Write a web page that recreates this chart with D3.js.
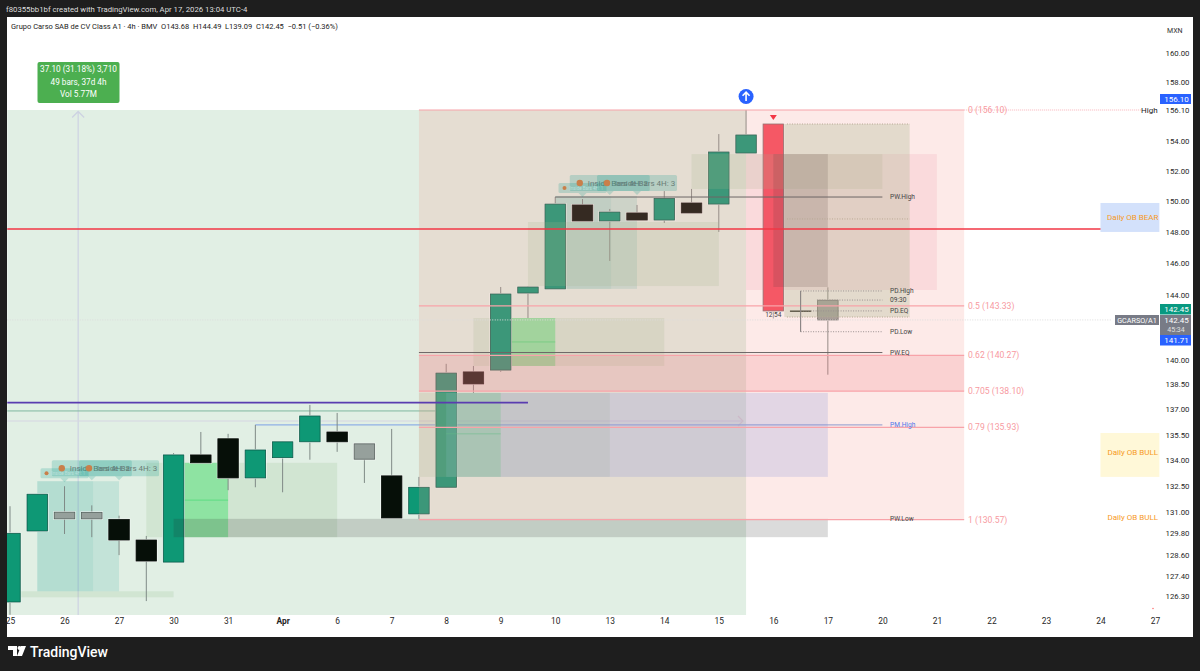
<!DOCTYPE html>
<html>
<head>
<meta charset="utf-8">
<script src="https://cdn.jsdelivr.net/npm/d3@7"></script>
<style>
  html, body { margin: 0; padding: 0; background: #1e1e1e; }
  svg { display: block; }
  text { font-family: Roboto, sans-serif; }
</style>
</head>
<body>
<svg id="chart"></svg>
<script>
"use strict";

// candles, bar index = position in the array
const candleKinds = ["up","up","flat","flat","down","down","up","down","down","up","up","up","down","flat","down","up","up","down","up","up","up","down","up","down","up","down","up","up","red","down","flat"];
const opens  = [125.97,129.93,131.0,130.62,130.59,129.42,128.18,134.31,135.26,132.97,134.15,135.08,135.66,134.96,133.09,130.90,132.43,139.26,139.37,144.13,144.39,149.77,148.73,149.25,148.79,149.90,149.83,153.20,155.15,143.01,143.68];
const highs  = [131.34,132.03,132.49,131.39,130.8,129.65,134.42,135.66,135.55,136.08,135.08,137.27,136.79,134.96,135.84,133.03,139.75,139.62,144.51,144.57,150.29,150.16,149.51,149.77,150.68,150.82,154.47,156.10,155.15,144.26,144.49];
const lows   = [125.27,129.93,129.76,129.58,128.57,126.02,128.18,133.85,132.26,132.43,132.14,134.03,134.49,132.68,130.67,130.62,132.43,137.99,139.26,142.57,144.39,148.73,146.16,148.79,148.60,149.25,148.02,153.20,143.01,141.72,139.09];
const closes = [129.80,132.03,130.62,130.99,129.42,128.24,134.31,133.85,132.97,134.60,135.08,136.61,135.08,134.06,130.67,132.43,139.19,138.53,144.07,144.51,149.83,148.73,149.31,148.79,150.19,149.25,153.27,154.41,143.01,143.01,142.45];

// axes
const priceTicks = [160,158,156.1,154,152,150,148,146,144,140,138.5,137,135.5,134,132.5,131,129.8,128.6,127.4,126.3];
const dayTicks = [0,2,4,6,8,10,12,14,16,18,20,22,24,26,28,30,32,34,36,38,40,42];
const dayLabels = ["25","26","27","30","31","Apr","6","7","8","9","10","13","14","15","16","17","20","21","22","23","24","27"];

// fib levels
const fibRatios = [0,0.5,0.62,0.705,0.79,1];
const fibPrices = [156.10,143.33,140.27,138.10,135.93,130.57];

// zones: [bar from, bar to, price top, price bottom]
const paleZones = [[5,12,133.85,129.58],[17,24,142.57,139.62],[19,26,148.66,144.57],[25,32,153.13,150.82],[15,22,137.99,133.03],[-0.1,6,126.56,126.23]];
const brightZones = [[6,8,133.85,129.58],[18,20,142.57,139.62],[16,18,137.99,133.03]];
const brightMids = [131.69,141.09,135.55];
const insideStrong = [[1,3.05,132.78,126.56],[20,22.05,150.36,144.39]];
const insideLight = [[3.05,4,132.78,126.56],[22.05,23,150.36,144.39]];
const insideLabelBars = [[2,3,4],[21,22,23]];
const insideLabelTops = [132.78,150.36];

// guide lines: [label, bar from, bar to, price]
const solidGuides = [["PW.High",20,32,150.29],["PW.EQ",15,32,140.44]];
const dottedGuides = [["PD.High",29,32,144.26],["09:30",29.6,32,143.69],["PD.EQ",29,32,143.01],["PD.Low",29,32,141.72]];

const width = 1200;
const height = 671;
const plot = { left: 7, right: 1193, top: 17, bottom: 637, axis: 1160, dates: 615 };

const x = d3.scaleLinear().domain([0, 42]).range([10, 1155]);
const y = d3.scaleLog().domain([156.1, 126.3]).range([110, 596]);
const barW = 20.5;

const svg = d3.select("#chart").attr("width", width).attr("height", height);

function zone(g, z, fill) {
  g.append("rect")
    .attr("x", x(z[0]))
    .attr("y", y(z[2]))
    .attr("width", x(z[1]) - x(z[0]))
    .attr("height", y(z[3]) - y(z[2]))
    .attr("fill", fill);
}
function hline(g, b0, b1, p, color, w, dash) {
  g.append("line")
    .attr("x1", x(b0)).attr("x2", x(b1))
    .attr("y1", y(p)).attr("y2", y(p))
    .attr("stroke", color).attr("stroke-width", w)
    .attr("stroke-dasharray", dash || null);
}
function label(g, px, py, txt, size, color, anchor) {
  return g.append("text")
    .attr("x", px).attr("y", py).attr("dy", "0.35em")
    .attr("font-size", size).attr("fill", color)
    .attr("text-anchor", anchor || "start")
    .text(txt);
}

// frame
svg.append("rect").attr("width", width).attr("height", height).attr("fill", "#1e1e1e");
svg.append("rect").attr("x", plot.left).attr("y", plot.top)
  .attr("width", plot.right - plot.left).attr("height", plot.bottom - plot.top).attr("fill", "#fff");

const main = svg.append("g");
main.append("defs").append("clipPath").attr("id", "pane").append("rect")
  .attr("x", plot.left).attr("y", plot.top)
  .attr("width", plot.axis - plot.left).attr("height", plot.dates - plot.top);
const pane = main.append("g").attr("clip-path", "url(#pane)");

// price range measure background
zone(pane, [-0.1, 27, 156.1, 120], "#e1efe4");
pane.append("path")
  .attr("d", `M${x(2.5)},${y(125)}V${y(156)}m-6,6l6,-6l6,6`)
  .attr("fill", "none").attr("stroke", "#cdd2e2").attr("stroke-width", 1.2);
hline(pane, -0.1, 26.85, 136.31, "#d5d5e2", 1.2);
pane.append("path")
  .attr("d", `M${x(26.85) - 4},${y(136.31) - 5}l5,5l-5,5`)
  .attr("fill", "none").attr("stroke", "#dcd2d4").attr("stroke-width", 1.2);

// zones under the candles
paleZones.slice(0, 2).concat([paleZones[5]]).forEach((z) => zone(pane, z, "rgba(145,190,140,0.2)"));
brightZones.slice(0, 2).forEach((z) => zone(pane, z, "rgba(60,225,105,0.45)"));
brightMids.slice(0, 2).forEach((p, i) => hline(pane, brightZones[i][0], brightZones[i][1], p, "rgba(60,215,110,0.6)", 1));
insideStrong.forEach((z) => zone(pane, z, "rgba(0,150,136,0.2)"));
insideLight.forEach((z) => zone(pane, z, "rgba(0,150,136,0.13)"));

// guide lines behind the candles
hline(pane, -0.1, 15.7, 136.91, "#7fb8a0", 1);
hline(pane, 9, 32, 136.08, "#8fb0e6", 1.2);

// candles
const fills = { up: "#0e9875", down: "#060f08", flat: "#96a09c", red: "#f5495c" };
const edges = { up: "#0c5a48", down: "#0a120c", flat: "#56615d", red: "#7d6a6c" };
const bars = d3.range(opens.length);

pane.selectAll("line.wick").data(bars).join("line")
  .attr("class", "wick")
  .attr("x1", (i) => x(i)).attr("x2", (i) => x(i))
  .attr("y1", (i) => y(highs[i])).attr("y2", (i) => y(lows[i]))
  .attr("stroke", "#7f8a86").attr("stroke-width", 1);

pane.selectAll("rect.halo").data(bars).join("rect")
  .attr("class", "halo")
  .attr("x", (i) => x(i) - barW / 2 - 1)
  .attr("width", barW + 2)
  .attr("y", (i) => y(Math.max(opens[i], closes[i])) - 1)
  .attr("height", (i) => Math.abs(y(opens[i]) - y(closes[i])) + 2)
  .attr("fill", "rgba(255,255,255,0.75)");

pane.selectAll("rect.body").data(bars).join("rect")
  .attr("class", "body")
  .attr("x", (i) => x(i) - barW / 2)
  .attr("width", barW)
  .attr("y", (i) => y(Math.max(opens[i], closes[i])))
  .attr("height", (i) => Math.max(Math.abs(y(opens[i]) - y(closes[i])), 0.6))
  .attr("fill", (i) => fills[candleKinds[i]])
  .attr("stroke", (i) => edges[candleKinds[i]])
  .attr("stroke-width", 0.8);

// zones over the candles
paleZones.slice(2, 5).forEach((z) => zone(pane, z, "rgba(145,190,140,0.2)"));
zone(pane, brightZones[2], "rgba(60,225,105,0.28)");
hline(pane, 16, 18, brightMids[2], "rgba(60,215,110,0.5)", 1);
zone(pane, [27, 34, 153.13, 144.32], "rgba(230,64,115,0.1)");
zone(pane, [28.4, 33, 155.15, 142.63], "rgba(150,190,140,0.3)");
zone(pane, [16, 30, 137.99, 133.03], "rgba(90,130,235,0.2)");
zone(pane, [6, 30, 130.62, 129.58], "rgba(40,40,40,0.17)");
zone(pane, [28, 30, 153.13, 144.51], "rgba(40,40,40,0.17)");
[155.15, 148.86, 142.63].forEach((p) => hline(pane, 28.5, 33, p, "#a9ad96", 1, "1 1.5"));

// fib
zone(pane, [15, 35, fibPrices[0], fibPrices[5]], "rgba(245,150,140,0.2)");
zone(pane, [15, 35, fibPrices[2], fibPrices[3]], "rgba(240,115,125,0.2)");

solidGuides.forEach((g) => {
  hline(pane, g[1], g[2], g[3], "#6d6666", 1);
  label(main, 890, y(g[3]), g[0], 6.6, "#444");
});
label(main, 890, y(130.6) - 0.5, "PW.Low", 6.6, "#444");

fibPrices.forEach((p, i) => {
  hline(pane, 15, 35, p, "#f8a3a9", 1.2);
  label(main, 968, y(p), `${fibRatios[i]} (${p.toFixed(2)})`, 8.6, "#f79aa1");
});

// long levels
hline(pane, -0.1, 19, 137.41, "#5a3cb0", 1.6);
hline(pane, -0.1, 41, 148.21, "#f23645", 1.3);
hline(pane, -0.1, 40.4, 142.45, "#dcdcdc", 1, "1 1.5");
hline(pane, 35, 41.5, 156.10, "#f8b4b9", 1.2, "1 1");

label(main, 890, y(136.08), "PM.High", 6.6, "#4f76e8");
dottedGuides.forEach((g) => {
  hline(pane, g[1], g[2], g[3], "#9a9090", 1, "1 1.5");
  label(main, 890, y(g[3]), g[0], 6.6, "#444");
});
pane.append("line")
  .attr("x1", x(29)).attr("x2", x(29)).attr("y1", y(144.26)).attr("y2", y(141.72))
  .attr("stroke", "#8a8585").attr("stroke-width", 1);
label(main, x(28), y(143.01) + 4, "12|54", 6.5, "#444", "middle");
label(main, 1141, y(156.10), "High", 8, "#222");

// inside bar labels
insideLabelBars.forEach((group, g) => {
  const top = y(insideLabelTops[g]);
  group.forEach((b, i) => {
    const small = i === 0;
    const w = small ? 48 : 80;
    const h = small ? 10 : 16;
    const cx = x(b);
    const by = top - (small ? 3 : 5) - h;
    main.append("path")
      .attr("d", `M${cx - 4},${by + h}h8l-4,4z`)
      .attr("fill", "rgba(0,150,136,0.2)");
    main.append("rect")
      .attr("x", cx - w / 2).attr("y", by)
      .attr("width", w).attr("height", h).attr("rx", 1.5)
      .attr("fill", "rgba(0,150,136,0.2)");
    main.append("circle")
      .attr("cx", cx - w / 2 + (small ? 6 : 10)).attr("cy", by + h / 2)
      .attr("r", small ? 2 : 3.2).attr("fill", "#c97f4a");
    label(main, cx - w / 2 + (small ? 11 : 18), by + h / 2, `Inside Bars 4H: ${i + 1}`, small ? 4.5 : 8, small ? "#e6f3ef" : "#6a7d78");
  });
});

// measure label
const tip = main.append("g");
tip.append("rect").attr("x", 37.5).attr("y", 62).attr("width", 82).attr("height", 41).attr("rx", 2)
  .attr("fill", "#4caf50");
["37.10 (31.18%) 3,710", "49 bars, 37d 4h", "Vol 5.77M"].forEach((t, i) => {
  label(tip, 78.5, 69 + i * 12.8, t, 8.2, "#fff", "middle");
});

// signal marks
main.append("circle").attr("cx", x(27)).attr("cy", 96.5).attr("r", 7.5).attr("fill", "#2962ff");
main.append("path").attr("d", `M${x(27)},101V92.5m-3.5,3.2l3.5,-3.5l3.5,3.5`)
  .attr("fill", "none").attr("stroke", "#fff").attr("stroke-width", 1.6);
main.append("path").attr("d", `M${x(28) - 3.5},115h7l-3.5,5z`).attr("fill", "#f23645");

// daily order blocks
zone(main, [40, 42.16, 149.9, 148.02], "#d3e1fb");
zone(main, [40, 42.16, 135.6, 133.03], "#fff8d8");
label(main, 1158.5, 217, "Daily OB BEAR", 8, "#f79a1f", "end");
label(main, 1158, 452.5, "Daily OB BULL", 8, "#f79a1f", "end");
label(main, 1158, 517, "Daily OB BULL", 8, "#f79a1f", "end");

// axes
const yAxis = d3.axisRight(y).tickValues(priceTicks).tickSize(0).tickPadding(0)
  .tickFormat((d) => d.toFixed(2));
const yAxisG = svg.append("g").attr("transform", "translate(1165.5,0)").call(yAxis);
yAxisG.select(".domain").remove();
yAxisG.selectAll("text").attr("font-size", 7.8).attr("fill", "#1f1f1f").style("font-family", "Roboto, sans-serif");

const xAxis = d3.axisBottom(x).tickValues(dayTicks).tickSize(0).tickPadding(0)
  .tickFormat((d, i) => dayLabels[i]);
const xAxisG = svg.append("g").attr("transform", "translate(0,618)").call(xAxis);
xAxisG.select(".domain").remove();
xAxisG.selectAll("text").attr("font-size", 8.4).attr("fill", "#1f1f1f")
  .attr("font-weight", (d, i) => (dayLabels[i] === "Apr" ? 700 : 400))
  .style("font-family", "Roboto, sans-serif");

label(svg, 1167, 31, "MXN", 7, "#333");

// price tags
function tag(px, tagY, w, h, fill) {
  svg.append("rect").attr("x", px).attr("y", tagY).attr("width", w).attr("height", h).attr("fill", fill);
}
tag(1160, 94, 31, 10, "#2962ff");
label(svg, 1176.5, 99, "156.10", 8, "#fff", "middle");
tag(1160, 304, 31, 10.5, "#089981");
label(svg, 1176.5, 309.5, "142.45", 8, "#fff", "middle");
tag(1160, 315, 31, 20, "#787b86");
label(svg, 1176.5, 320.5, "142.45", 8, "#fff", "middle");
label(svg, 1176, 329.5, "45:34", 7, "#e0e0e0", "middle");
tag(1160, 335, 31, 10.5, "#2962ff");
label(svg, 1176.5, 340.5, "141.71", 8, "#fff", "middle");
tag(1115, 315, 44, 10, "#787b86");
label(svg, 1137, 320, "GCARSO/A1", 7.2, "#fff", "middle");

// header and footer
label(svg, 6, 9, "f80355bb1bf created with TradingView.com, Apr 17, 2026 13:04 UTC-4", 7.75, "#ddd");
label(svg, 11, 26.5, "Grupo Carso SAB de CV Class A1 · 4h · BMV  O143.68  H144.49  L139.09  C142.45  −0.51 (−0.36%)", 7.5, "#222")
  .attr("xml:space", "preserve").style("white-space", "pre");

const logo = svg.append("g").attr("fill", "#fff");
logo.append("path").attr("d", "M8,646h9v10h-4v-6h-5z");
logo.append("circle").attr("cx", 19.5).attr("cy", 648).attr("r", 2);
logo.append("path").attr("d", "M21,646h5l-4,10h-5z");
label(svg, 30, 652, "TradingView", 14, "#fff").attr("font-weight", 500);

svg.append("circle").attr("cx", 1153).attr("cy", 608.5).attr("r", 0.8).attr("fill", "#f77");
</script>
</body>
</html>
